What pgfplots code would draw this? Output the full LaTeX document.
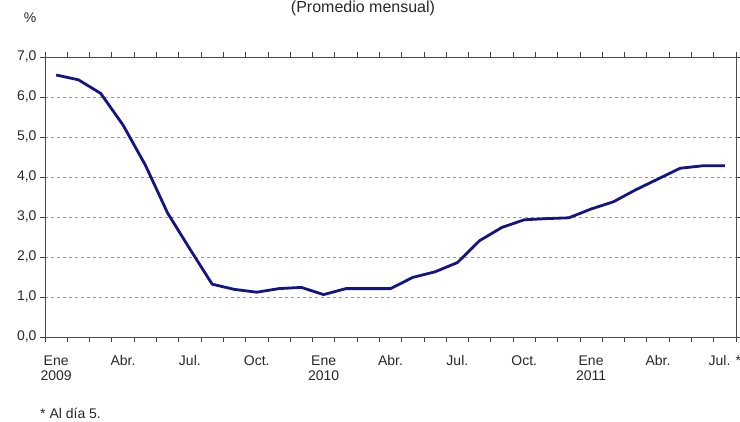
\documentclass[border=0pt]{standalone}
\usepackage{fontspec}
\setmainfont{Liberation Sans}
\usepackage{pgfplots}
\pgfplotsset{compat=1.18}
\definecolor{linec}{RGB}{20,20,130}
\definecolor{txt}{RGB}{40,40,40}
\begin{document}
\begin{tikzpicture}
\begin{axis}[
  at={(45pt,84pt)}, anchor=south west,
  width=691pt, height=280pt, scale only axis,
  xmin=-0.5, xmax=30.5, ymin=0, ymax=7,
  ytick={0,1,...,7},
  yticklabels={{0,0},{1,0},{2,0},{3,0},{4,0},{5,0},{6,0},{7,0}},
  ymajorgrids, grid style={dashed, gray!80, line width=0.5pt},
  xtick={-0.5,0.5,...,30.5}, xticklabels={},
  extra x ticks={0,3,6,9,12,15,18,21,24,27,30},
  extra x tick labels={{Ene\\2009},{Abr.},{Jul.},{Oct.},{Ene\\2010},{Abr.},{Jul.},{Oct.},{Ene\\2011},{Abr.},{Jul. *}},
  extra x tick style={major tick length=0pt, grid=none},
  tick align=outside, major tick length=5pt,
  tick style={black!75, line width=0.8pt},
  axis line style={black!70, line width=0.8pt},
  tick label style={font=\fontsize{14}{15}\selectfont, text=txt},
  xticklabel style={align=center, yshift=-15pt},
  yticklabel style={xshift=0pt},
  clip=false,
]
\addplot[linec, line width=2.8pt, line join=round] coordinates {
(0,6.55) (1,6.43) (2,6.09) (3,5.30) (4,4.30) (5,3.10) (6,2.20) (7,1.32)
(8,1.19) (9,1.12) (10,1.21) (11,1.24) (12,1.06) (13,1.21) (14,1.21) (15,1.21)
(16,1.49) (17,1.63) (18,1.86) (19,2.41) (20,2.74) (21,2.93) (22,2.96) (23,2.98)
(24,3.20) (25,3.38) (26,3.68) (27,3.95) (28,4.22) (29,4.28) (30,4.28)
};
\end{axis}
\node[anchor=base, text=txt, font=\fontsize{16}{18}\selectfont] at (363pt,408pt) {(Promedio mensual)};
\node[anchor=base, text=txt, font=\fontsize{14}{15}\selectfont] at (30pt,398pt) {\%};
\node[anchor=base west, text=txt, font=\fontsize{14}{15}\selectfont, inner sep=0pt] at (40pt,3pt) {* Al día 5.};
\pgfresetboundingbox
\useasboundingbox (0,0) rectangle (740pt,421pt);
\end{tikzpicture}
\end{document}
